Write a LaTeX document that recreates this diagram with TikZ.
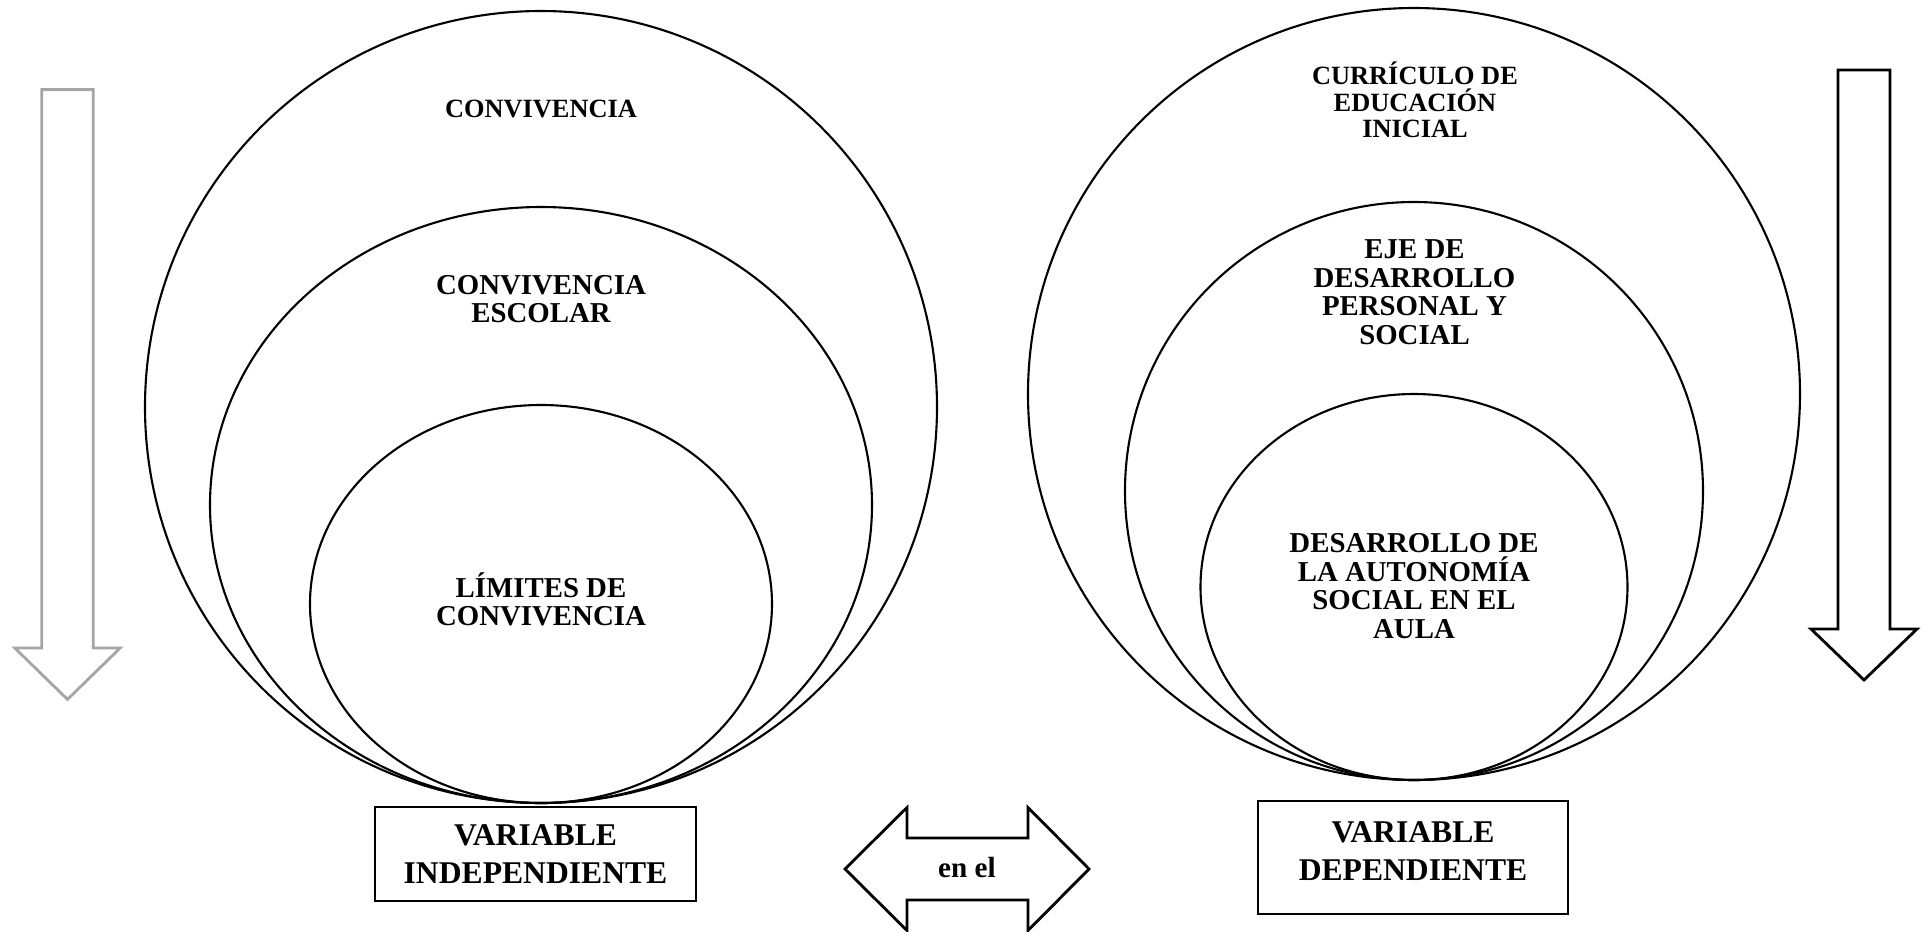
\documentclass[tikz,border=0pt]{standalone}
\usepackage{fontspec}
\setmainfont{Liberation Serif}
\definecolor{grisfleche}{RGB}{165,165,165}

\begin{document}
\begin{tikzpicture}[
  cercle/.style={line width=0.6pt},
  petit/.style={font=\bfseries\fontsize{7.5}{7.6}\selectfont, align=center, inner sep=0pt},
  moyen/.style={font=\bfseries\fontsize{8.2}{8.1}\selectfont, align=center, inner sep=0pt},
  boite/.style={draw, line width=0.8pt, align=center, inner sep=0pt,
    font=\bfseries\fontsize{9}{10.8}\selectfont},
  fleche/.style={line width=0.8pt, line join=miter}
]
\useasboundingbox (0,0) rectangle (19.24,9.31);

% Fleche grise
\draw[fleche, grisfleche]
(0.417, 8.414) -- 
(0.933, 8.414) -- 
(0.933, 2.83) -- 
(1.202, 2.83) -- 
(0.675, 2.316) -- 
(0.148, 2.83) -- 
(0.417, 2.83) -- cycle;

% Cercles de gauche
\draw[cercle] (5.41,5.24) circle (3.96);
\draw[cercle] (5.41,4.26) ellipse (3.31 and 2.98);
\draw[cercle] (5.41,3.27) ellipse (2.31 and 1.99);
\node[petit] (conv) at (5.41,8.225) {CONVIVENCIA};
\node[moyen] (convesc) at (5.41,6.32) {CONVIVENCIA\\ESCOLAR};
\node[moyen] (limites) at (5.41,3.315) {LÍMITES DE\\CONVIVENCIA};

% Variable independante
\node[boite, minimum width=3.21cm, minimum height=0.94cm] (vi) at (5.355,0.77)
  {VARIABLE\\INDEPENDIENTE};

% Double fleche
\draw[fleche]
(8.45, 0.62) -- 
(9.07, 1.235) -- 
(9.07, 0.93) -- 
(10.28, 0.93) -- 
(10.28, 1.235) -- 
(10.89, 0.62) -- 
(10.28, 0.005) -- 
(10.28, 0.31) -- 
(9.07, 0.31) -- 
(9.07, 0.005) -- cycle;
\node[font=\bfseries\fontsize{8.3}{9}\selectfont, anchor=base] (enel) at (9.67,0.54) {en el};

% Cercles de droite
\draw[cercle] (14.14,5.37) circle (3.86);
\draw[cercle] (14.14,4.40) circle (2.89);
\draw[cercle] (14.14,3.44) ellipse (2.135 and 1.93);
\node[petit] (curriculo) at (14.15,8.31) {CURRÍCULO DE\\EDUCACIÓN\\INICIAL};
\node[moyen] (eje) at (14.145,6.39) {EJE DE\\DESARROLLO\\PERSONAL Y\\SOCIAL};
\node[moyen] (autonomia) at (14.14,3.45) {DESARROLLO DE\\LA AUTONOMÍA\\SOCIAL EN EL\\AULA};

% Variable dependante
\node[boite, minimum width=3.10cm, minimum height=1.13cm, text depth=0.12cm] (vd) at (14.13,0.735)
  {VARIABLE\\DEPENDIENTE};

% Fleche de droite
\draw[fleche]
(18.38, 8.61) -- 
(18.90, 8.61) -- 
(18.90, 3.02) -- 
(19.17, 3.02) -- 
(18.64, 2.51) -- 
(18.11, 3.02) -- 
(18.38, 3.02) -- cycle;
\end{tikzpicture}
\end{document}
